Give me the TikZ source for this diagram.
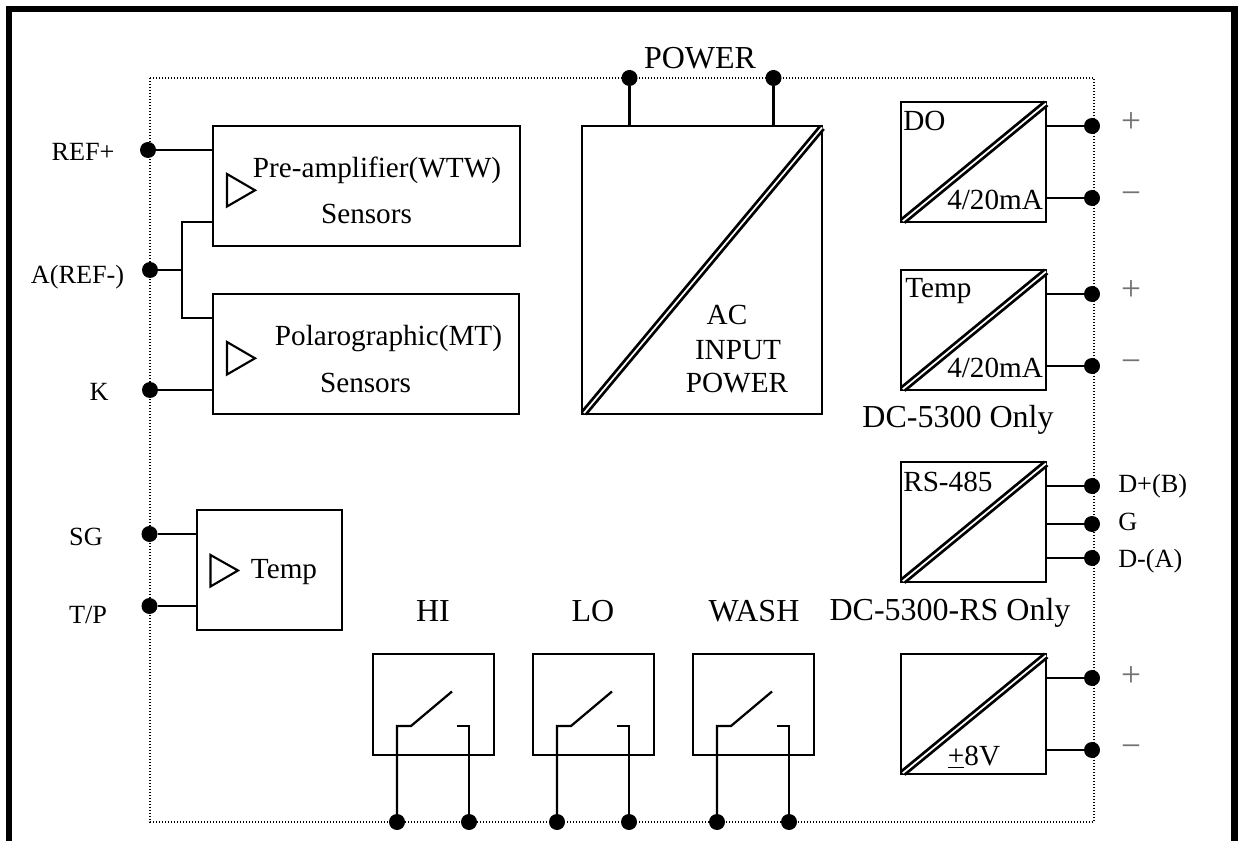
\documentclass[tikz,border=0pt]{standalone}
\usepackage{fontspec}
\setmainfont{Liberation Serif}
\usetikzlibrary{calc}
\newcommand{\fsmall}{\fontsize{19.7pt}{23pt}\selectfont}
\newcommand{\fmid}{\fontsize{21.9pt}{25pt}\selectfont}
\newcommand{\flarge}{\fontsize{24pt}{28pt}\selectfont}
\newcommand{\fsign}{\fontsize{26.5pt}{30pt}\selectfont}
\definecolor{signgray}{gray}{0.45}
\tikzset{
  x=0.75pt,y=-0.75pt,
  frameline/.style={line width=4.7pt,line cap=butt,miter limit=10},
  dotline/.style={line width=1.1pt,dash pattern=on 1.1pt off 1.15pt},
  wire/.style={line width=1.7pt},
  box/.style 2 args={draw,line width=2.1pt,anchor=north west,inner sep=0pt,outer sep=0pt,minimum width=#1*0.75pt,minimum height=#2*0.75pt},
  conv/.style 2 args={draw,line width=1.7pt,anchor=north west,inner sep=0pt,outer sep=0pt,minimum width=#1*0.75pt,minimum height=#2*0.75pt},
  term/.style={circle,fill=black,inner sep=0pt,outer sep=0pt,minimum size=12pt},
  diag/.style={double,double distance=1.3pt,line width=2.1pt},
  amp/.style={draw,line width=1.6pt,line join=miter},
  txs/.style={anchor=base,inner sep=0pt,font=\fsmall},
  txm/.style={anchor=base,inner sep=0pt,font=\fmid},
  txl/.style={anchor=base,inner sep=0pt,font=\flarge},
  lefts/.style={anchor=base west,inner sep=0pt,font=\fmid},
  sign/.style={anchor=base,inner sep=0pt,font=\fsign,text=signgray},
}
\begin{document}
\begin{tikzpicture}
\useasboundingbox (0,0) rectangle (1239,841);
\fill[white] (0,0) rectangle (1239,841);
% outer frame, open at the bottom
\draw[frameline] (9,841) -- (9,9) -- (1234.5,9) -- (1234.5,841);
% dotted enclosure
\draw[dotline] (150,78) rectangle (1094,822);

% blocks
\node[box={307}{120}] (pre) at (213,126) {};
\node[box={306}{120}] (pol) at (213,294) {};
\node[conv={145}{120}] (tbox) at (197,510) {};
\node[conv={240}{288}] (ac) at (582,126) {};
\node[conv={145}{120}] (do) at (901,102) {};
\node[conv={145}{120}] (tc) at (901,270) {};
\node[conv={145}{120}] (rs) at (901,462) {};
\node[conv={145}{120}] (pm) at (901,654) {};
\node[box={121}{101}] (hi) at (373,654) {};
\node[box={121}{101}] (lo) at (533,654) {};
\node[box={121}{101}] (wash) at (693,654) {};

% converter diagonals
\foreach \b in {ac,do,tc,rs,pm}
  \draw[diag] ($(\b.south west)+(2,-1)$) -- ($(\b.north east)+(0,1.5)$);

% amplifier triangles
\draw[amp] (227,174) -- (227,206.5) -- (255,190.3) -- cycle;
\draw[amp] (227,342) -- (227,374.5) -- (255,358.3) -- cycle;
\draw[amp] (210.5,555) -- (210.5,586.5) -- (238,570.5) -- cycle;

% terminals
\node[term] (tref) at (148,150) {};
\node[term] (ta) at (150,270) {};
\node[term] (tk) at (150,390) {};
\node[term] (tsg) at (149.5,534) {};
\node[term] (ttp) at (149.5,606) {};
\node[term] (tp1) at (629.5,78) {};
\node[term] (tp2) at (773.5,78) {};
\node[term] (dop) at (1092,126) {};
\node[term] (dom) at (1092,198) {};
\node[term] (tcp) at (1092,294) {};
\node[term] (tcm) at (1092,366) {};
\node[term] (rsb) at (1092,486) {};
\node[term] (rsg) at (1092,524) {};
\node[term] (rsa) at (1092,558) {};
\node[term] (pmp) at (1092,678) {};
\node[term] (pmm) at (1092,750) {};
\node[term] (hil) at (397,822) {};
\node[term] (hir) at (469,822) {};
\node[term] (lol) at (557,822) {};
\node[term] (lor) at (629,822) {};
\node[term] (washl) at (717,822) {};
\node[term] (washr) at (789,822) {};

% connectors
\draw[wire] (tref) -- (tref -| pre.west);
\coordinate (aj) at (182,270);
\coordinate (prein) at (213,222);
\coordinate (polin) at (213,318);
\draw[wire] (ta) -- (aj);
\draw[wire] (prein) -| (aj) |- (polin);
\draw[wire] (tk) -- (tk -| pol.west);
\draw[wire] (tsg) -- (tsg -| tbox.west);
\draw[wire] (ttp) -- (ttp -| tbox.west);
\draw[wire] (tp1) -- (tp1 |- ac.north);
\draw[wire] (tp2) -- (tp2 |- ac.north);
\foreach \t/\b in {dop/do,dom/do,tcp/tc,tcm/tc,rsb/rs,rsg/rs,rsa/rs,pmp/pm,pmm/pm}
  \draw[wire] (\t) -- (\t -| \b.east);

% relay contacts
\foreach \s in {hi,lo,wash}{
  \draw[wire,line join=miter] (\s l) -- ++(0,-96) -- ++(14,0) -- ++(41,-34.5);
  \draw[wire,line join=miter] (\s r) -- ++(0,-96) -- ++(-12.5,0);
}

% labels
\node[txl] at (700,68.5) {POWER};
\node[txs] at (83,161) {REF+};
\node[txs] at (77.5,284) {A(REF-)};
\node[txs] at (99,401) {K};
\node[txs] at (86,545) {SG};
\node[txs] at (88,623) {T/P};
\node[txm] at (377,178) {Pre-amplifier(WTW)};
\node[txm] at (366.5,224) {Sensors};
\node[txm] at (388.5,345.5) {Polarographic(MT)};
\node[txm] at (365.5,393) {Sensors};
\node[txm] at (284,578) {Temp};
\node[txm] at (727,325) {AC};
\node[txm] at (738,360) {INPUT};
\node[txm] at (737,393) {POWER};
\node[lefts] at (903,131) {DO};
\node[lefts] at (947,210) {4/20mA};
\node[lefts] at (905,298) {Temp};
\node[lefts] at (947,378) {4/20mA};
\node[lefts] at (903,491) {RS-485};
\node[txl] at (958,428) {DC-5300 Only};
\node[txl] at (950,620) {DC-5300-RS Only};
\node[txm] at (974,765) {\underline{+}8V};
\node[anchor=base west,inner sep=0pt,font=\fsmall] at (1118,493) {D+(B)};
\node[anchor=base west,inner sep=0pt,font=\fsmall] at (1118,530) {G};
\node[anchor=base west,inner sep=0pt,font=\fsmall] at (1118,567) {D-(A)};
\node[txl] at (433,621) {HI};
\node[txl] at (593,621) {LO};
\node[txl] at (754,621) {WASH};
\node[sign] at (1131,133) {+};
\node[sign] at (1131,205) {−};
\node[sign] at (1131,301) {+};
\node[sign] at (1131,373) {−};
\node[sign] at (1131,686) {+};
\node[sign] at (1131,757) {−};
\end{tikzpicture}
\end{document}
